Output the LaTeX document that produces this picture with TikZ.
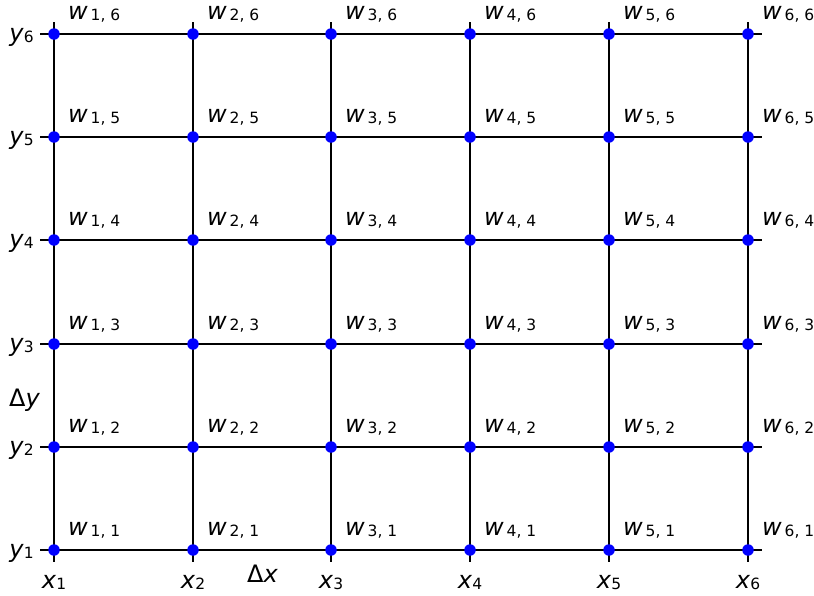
\documentclass[tikz,border=0pt]{standalone}
\usepackage{fontspec}
\setmainfont{DejaVu Sans}
\tikzset{
  gridline/.style={line width=1.6pt, black},
  tickline/.style={line width=1.2pt, black},
  dot/.style={circle, fill=blue, inner sep=0pt, minimum size=11.5pt},
  lbl/.style={inner sep=0pt, font=\fontsize{24}{28}\selectfont},
}
\newcommand\sub[1]{\raisebox{-0.06em}{\fontsize{15.5}{18}\selectfont #1}}
\begin{document}
\begin{tikzpicture}[x=1pt,y=-1pt]
\useasboundingbox (0,0) rectangle (814,595);
% grid positions
\def\xs{{54,193,331,470,609,748}}
\def\ys{{550,447,344,240,137,34}}
% coordinates
\foreach \i in {1,...,6}{
  \pgfmathsetmacro\px{\xs[\i-1]}
  \pgfmathsetmacro\py{\ys[\i-1]}
  \coordinate (top-\i) at (\px,22);
  \coordinate (bot-\i) at (\px,550);
  \coordinate (tk-\i) at (\px,562);
  \coordinate (right-\i) at (762,\py);
  \coordinate (left-\i) at (54,\py);
  \coordinate (tl-\i) at (40,\py);
}
% grid lines
\foreach \i in {1,...,6}{
  \draw[gridline] (top-\i) -- (bot-\i);
  \draw[gridline] (left-\i) -- (right-\i);
  \draw[tickline] (tl-\i) -- (left-\i);
  \draw[tickline] (bot-\i) -- (tk-\i);
}
% dots and labels
\foreach \i in {1,...,6}{
  \foreach \j in {1,...,6}{
    \pgfmathsetmacro\px{\xs[\i-1]}
    \pgfmathsetmacro\py{\ys[\j-1]}
    \node[dot] (p-\i-\j) at (\px,\py) {};
    \node[lbl, anchor=base west] (w-\i-\j) at (\px+14,\py-14.5) {\textit{w}\hspace{0.12em}\sub{\i, \j}};
  }
}
% axis labels
\foreach \i in {1,...,6}{
  \node[lbl, anchor=base east] (ylab-\i) at (34,\ys[\i-1]+7) {\textit{y}\sub{\i}};
  \node[lbl, anchor=base] (xlab-\i) at (\xs[\i-1],588) {\textit{x}\sub{\i}};
}
\node[lbl, anchor=base west] (dx) at (247,582) {Δ\textit{x}};
\node[lbl, anchor=base west] (dy) at (9,406) {Δ\textit{y}};
\end{tikzpicture}
\end{document}
